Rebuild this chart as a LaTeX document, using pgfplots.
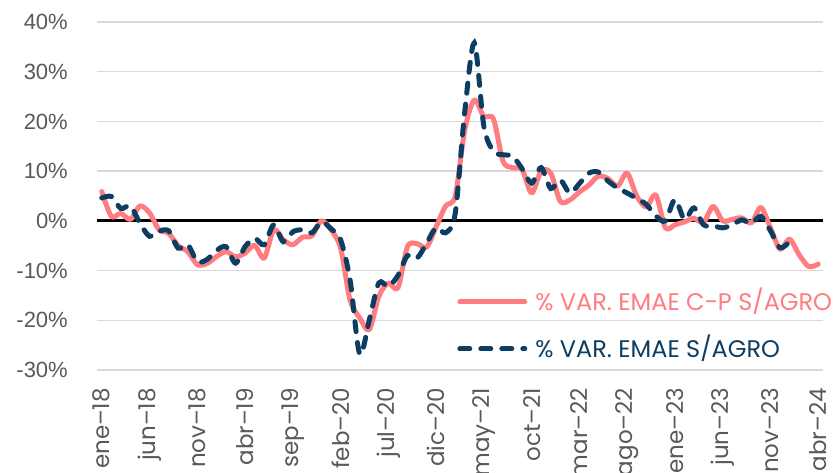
\documentclass[border=0pt]{standalone}
\usepackage{fontspec}
\setmainfont{Poppins}
\newfontfamily\arialfont{Liberation Sans}
\usepackage{pgfplots}
\pgfplotsset{compat=1.18}
\usepackage{pgfplotstable}

\definecolor{cpred}{HTML}{FF7C80}
\definecolor{emaeblue}{HTML}{0C3D62}
\definecolor{gridgray}{HTML}{D9D9D9}
\definecolor{labelgray}{HTML}{595959}

% % var. EMAE C-P s/agro (ene-18 = 0)
\pgfplotstableread{
i v
0 5.9
1 0.9
2 1.5
3 0.3
4 3.0
5 1.6
6 -1.8
7 -2.5
8 -5.0
9 -6.2
10 -8.8
11 -8.6
12 -7.2
13 -6.2
14 -7.2
15 -6.5
16 -4.9
17 -7.5
18 -1.8
19 -3.8
20 -4.8
21 -3.3
22 -3.0
23 0.0
24 -1.8
25 -5.5
26 -16.0
27 -19.5
28 -21.9
29 -15.2
30 -12.5
31 -13.5
32 -5.2
33 -4.6
34 -5.3
35 -1.2
36 3.0
37 5.0
38 18.3
39 24.3
40 21.0
41 20.5
42 12.0
43 10.7
44 10.3
45 5.6
46 10.0
47 9.6
48 3.9
49 4.2
50 5.8
51 7.2
52 9.0
53 8.5
54 7.0
55 9.6
56 5.0
57 2.8
58 5.2
59 -1.4
60 -0.8
61 -0.2
62 0.5
63 -0.3
64 2.9
65 0.0
66 0.3
67 0.6
68 -0.4
69 2.7
70 -1.4
71 -5.7
72 -3.7
73 -6.8
74 -9.2
75 -8.7
}\cpdata

% % var. EMAE s/agro
\pgfplotstableread{
i v
0 4.6
1 4.9
2 2.5
3 3.0
4 -0.5
5 -3.1
6 -2.1
7 -2.0
8 -5.5
9 -4.8
10 -8.2
11 -7.8
12 -6.0
13 -5.2
14 -8.5
15 -5.2
16 -3.5
17 -4.8
18 -0.8
19 -4.2
20 -2.2
21 -1.8
22 -2.4
23 -0.2
24 -1.6
25 -3.8
26 -12.0
27 -26.8
28 -20.0
29 -12.5
30 -13.2
31 -11.0
32 -7.0
33 -7.5
34 -4.5
35 -1.4
36 -2.4
37 1.5
38 22.0
39 35.8
40 19.0
41 14.0
42 13.3
43 13.0
44 10.5
45 7.6
46 10.7
47 6.5
48 8.2
49 5.6
50 7.5
51 9.6
52 9.8
53 8.0
54 6.6
55 5.6
56 4.5
57 3.3
58 1.0
59 0.0
60 4.3
61 0.3
62 2.6
63 -0.8
64 -1.0
65 -1.4
66 -0.8
67 0.2
68 -0.5
69 0.9
70 -2.0
71 -5.4
72 -4.2
}\emaedata

\begin{document}
\begin{tikzpicture}
\begin{axis}[
  name=ax,
  scale only axis, width=726pt, height=348pt,
  xmin=-0.5, xmax=75.5, ymin=-30, ymax=40,
  axis line style={draw=none},
  major tick length=0pt,
  ymajorgrids, major grid style={gridgray, line width=1.3pt},
  xtick={0,5,...,75},
  xticklabels={ene–18,jun–18,nov–18,abr–19,sep–19,feb–20,jul–20,dic–20,may–21,oct–21,mar–22,ago–22,ene–23,jun–23,nov–23,abr–24},
  ytick={-30,-20,...,40},
  yticklabels={-30\%,-20\%,-10\%,0\%,10\%,20\%,30\%,40\%},
  extra y ticks={0}, extra y tick labels={},
  extra y tick style={ymajorgrids=true, major grid style={black, line width=3pt}},
  x tick label style={font=\fontsize{23}{23}\selectfont, color=labelgray, rotate=90, anchor=east, inner sep=0pt},
  xticklabel shift=18pt,
  y tick label style={font=\arialfont\fontsize{22}{22}\selectfont, color=labelgray, anchor=east, inner sep=0pt},
  yticklabel shift=29pt,
  legend style={at={(0.496,0.128)}, anchor=west, draw=none, fill=none, inner sep=0pt,
    row sep=30pt, font=\fontsize{24}{24}\selectfont,
    nodes={inner sep=0pt, text height=17pt, text depth=0pt},
    /tikz/every odd column/.append style={column sep=8pt}},
  legend cell align=left,
  legend image code/.code={\draw[#1] (2.5pt,0pt) -- (67.5pt,0pt);},
]
\addplot[cpred, line width=5pt, line cap=round, line join=round, smooth] table[x=i, y=v] {\cpdata};
\addlegendentry{\textcolor{cpred}{\% VAR. EMAE C-P S/AGRO}}
\addplot[emaeblue, line width=5pt, line cap=round, dash pattern=on 10pt off 11pt, smooth] table[x=i, y=v] {\emaedata};
\addlegendentry{\textcolor{emaeblue}{\% VAR. EMAE S/AGRO}}
\end{axis}
\pgfresetboundingbox
\path[use as bounding box] ([shift={(-97pt,-103pt)}]ax.south west) rectangle ([shift={(736pt,370pt)}]ax.south west);
\end{tikzpicture}
\end{document}
